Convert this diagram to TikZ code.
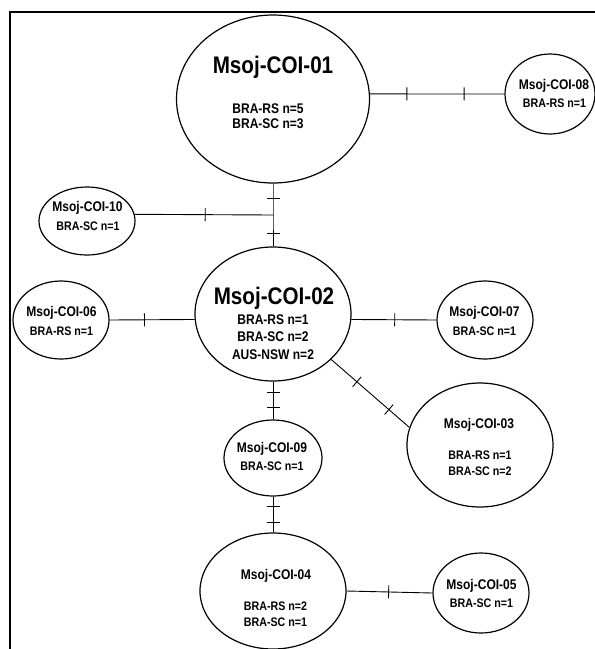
\documentclass[tikz,border=0pt]{standalone}
\usepackage{fontspec}
\setmainfont{Liberation Sans}[FakeStretch=0.86]
\usetikzlibrary{shapes.geometric,decorations.markings}

\begin{document}
\begin{tikzpicture}[
	x=1pt,y=-1pt,
	hap/.style={ellipse,draw,line width=1.2pt,inner sep=0pt},
	big/.style={anchor=base,font=\bfseries\fontsize{24}{26}\selectfont},
	ttl/.style={anchor=base,font=\bfseries\fontsize{14}{16}\selectfont},
	sub/.style={anchor=base,font=\bfseries\fontsize{12.4}{14}\selectfont},
	bigsub/.style={anchor=base,font=\bfseries\fontsize{14}{16}\selectfont},
	link/.style={line width=0.9pt},
	tick/.style={postaction={decorate,decoration={markings,
		mark=at position #1 with {\draw[line width=0.9pt] (0,-6.5) -- (0,6.5);}}}}
	]
	\useasboundingbox (0,0) rectangle (595,649);
	% frame
	\draw[line width=1.2pt] (10,649) -- (10,12) -- (595,12);
	
	% haplotypes
	\node[hap,minimum width=193,minimum height=168] (c01) at (273,99) {};
	\node[hap,minimum width=90,minimum height=80] (c08) at (550,94) {};
	\node[hap,minimum width=96,minimum height=68] (c10) at (87,221) {};
	\node[hap,minimum width=156,minimum height=134] (c02) at (273,314) {};
	\node[hap,minimum width=96,minimum height=78] (c06) at (61,320) {};
	\node[hap,minimum width=96,minimum height=78] (c07) at (485,320) {};
	\node[hap,minimum width=146,minimum height=124] (c03) at (480,445) {};
	\node[hap,minimum width=98,minimum height=76] (c09) at (273,458) {};
	\node[hap,minimum width=146,minimum height=116] (c04) at (273,591) {};
	\node[hap,minimum width=96,minimum height=80] (c05) at (481,593) {};
	
	% labels
	\node[big] (t01) at (273,73) {Msoj-COI-01};
	\node[bigsub] (s01a) at (268,113) {BRA-RS n=5};
	\node[bigsub] (s01b) at (268,128.5) {BRA-SC n=3};
	\node[ttl] (t08) at (554,89) {Msoj-COI-08};
	\node[sub] (s08) at (554.5,107.7) {BRA-RS n=1};
	\node[ttl] (t10) at (87.5,211) {Msoj-COI-10};
	\node[sub] (s10) at (88,230) {BRA-SC n=1};
	\node[big] (t02) at (274,304) {Msoj-COI-02};
	\node[bigsub] (s02a) at (273,324.3) {BRA-RS n=1};
	\node[bigsub] (s02b) at (273,341.7) {BRA-SC n=2};
	\node[bigsub] (s02c) at (273,359.3) {AUS-NSW n=2};
	\node[ttl] (t06) at (61.5,316.7) {Msoj-COI-06};
	\node[sub] (s06) at (61.5,335) {BRA-RS n=1};
	\node[ttl] (t07) at (484.5,316.7) {Msoj-COI-07};
	\node[sub] (s07) at (484.5,335) {BRA-SC n=1};
	\node[ttl] (t03) at (479,428.3) {Msoj-COI-03};
	\node[sub] (s03a) at (480,459) {BRA-RS n=1};
	\node[sub] (s03b) at (480,475.3) {BRA-SC n=2};
	\node[ttl] (t09) at (272,452.3) {Msoj-COI-09};
	\node[sub] (s09) at (272,470.7) {BRA-SC n=1};
	\node[ttl] (t04) at (276,579.3) {Msoj-COI-04};
	\node[sub] (s04a) at (275.5,610.7) {BRA-RS n=2};
	\node[sub] (s04b) at (275.5,626.7) {BRA-SC n=1};
	\node[ttl] (t05) at (481.5,589) {Msoj-COI-05};
	\node[sub] (s05) at (481.5,607.3) {BRA-SC n=1};
	
	% mutational steps
	\coordinate (j) at (273,215);
	\draw[link,tick=0.275,tick=0.7] (c01.3) -- (c08.west);
	\draw[link,tick=0.23,tick=0.8] (c01) -- (j) -- (c02);
	\draw[link,tick=0.51] (c10.8) -- (j);
	\draw[link,tick=0.41] (c06.east) -- (c02.184);
	\draw[link,tick=0.51] (c02.-4) -- (c07.west);
	\draw[link,tick=0.33,tick=0.74] (c02.-38) -- (c03.166);
	\draw[link,tick=0.28,tick=0.69] (c02) -- (c09);
	\draw[link,tick=0.28,tick=0.72] (c09) -- (c04);
	\draw[link,tick=0.49] (c04.east) -- (c05.west);
\end{tikzpicture}
\end{document}
